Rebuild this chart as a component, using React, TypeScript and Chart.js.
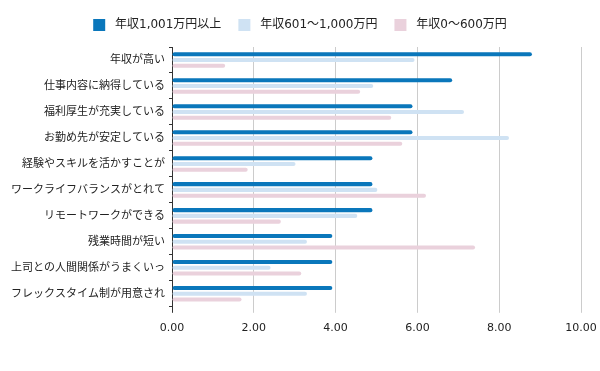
import React, { useEffect, useRef } from "react";
import { Chart, registerables } from "chart.js";

Chart.register(...registerables);

const categories = [
  "年収が高い",
  "仕事内容に納得している",
  "福利厚生が充実している",
  "お勤め先が安定している",
  "経験やスキルを活かすことが",
  "ワークライフバランスがとれて",
  "リモートワークができる",
  "残業時間が短い",
  "上司との人間関係がうまくいっ",
  "フレックスタイム制が用意され",
];

const seriesNames = ["年収1,001万円以上", "年収601～1,000万円", "年収0～600万円"];

const high = [8.8, 6.85, 5.88, 5.88, 4.9, 4.9, 4.9, 3.92, 3.92, 3.92];
const mid = [5.93, 4.92, 7.14, 8.24, 3.02, 5.02, 4.53, 3.3, 2.41, 3.3];
const low = [1.3, 4.6, 5.36, 5.63, 1.85, 6.21, 2.66, 7.41, 3.16, 1.7];

const xTicks = [0, 2, 4, 6, 8, 10];

const colors = ["#0a77bb", "#cfe2f3", "#ead1dc"];

const FONT = "'DejaVu Sans', 'Noto Sans CJK JP', sans-serif";

const centerLegend = {
  id: "centerLegend",
  afterLayout(chart: any) {
    if (chart.legend) {
      chart.legend.left = 0;
      chart.legend.right = chart.width;
      chart.legend.top -= 6;
      chart.legend.bottom -= 6;
    }
  },
};

export default function App() {
  const ref = useRef<HTMLCanvasElement>(null);
  useEffect(() => {
    document.body.style.margin = "0";
    const ctx = ref.current!;
    const chart = new Chart(ctx, {
      type: "bar",
      data: {
        labels: categories,
        datasets: [high, mid, low].map((d, i) => ({
          label: seriesNames[i],
          data: d,
          backgroundColor: colors[i],
          borderWidth: 0,
          borderRadius: 2,
          borderSkipped: false,
          categoryPercentage: 0.665,
          barPercentage: 0.7,
        })),
      },
      plugins: [centerLegend],
      options: {
        indexAxis: "y",
        animation: false,
        responsive: false,
        layout: { padding: { left: 0, right: 19, top: 8, bottom: 27 } },
        plugins: {
          legend: {
            position: "top",
            labels: {
              boxWidth: 12,
              boxHeight: 12,
              padding: 17,
              color: "#222",
              font: { family: FONT, size: 12 },
              generateLabels: (ch: any) =>
                Chart.defaults.plugins.legend.labels
                  .generateLabels(ch)
                  .map((l: any) => ({ ...l, text: " " + l.text })),
            },
          },
          tooltip: { enabled: false },
        },
        scales: {
          x: {
            min: 0,
            max: 10,
            afterBuildTicks: (scale: any) => {
              scale.ticks = xTicks.map((v) => ({ value: v }));
            },
            afterFit: (scale: any) => {
              scale.paddingRight = 0;
              scale.paddingLeft = 0;
            },
            ticks: {
              color: "#222",
              font: { family: FONT, size: 11 },
              padding: 9,
              callback: (v: any) => Number(v).toFixed(2),
            },
            grid: {
              color: (c: any) => (c.tick && c.tick.value === 0 ? "#333" : "#cccccc"),
              tickLength: 6,
            },
            border: { display: false },
          },
          y: {
            ticks: {
              color: "#222",
              font: { family: FONT, size: 11 },
              padding: 4,
            },
            grid: { drawOnChartArea: false, tickLength: 3, color: "#333" },
            border: { display: true, color: "#333" },
            afterFit: (scale: any) => {
              scale.width = 172;
            },
          },
        },
      },
    });
    return () => chart.destroy();
  }, []);
  return <canvas ref={ref} width={600} height={371} style={{ display: "block" }} />;
}
